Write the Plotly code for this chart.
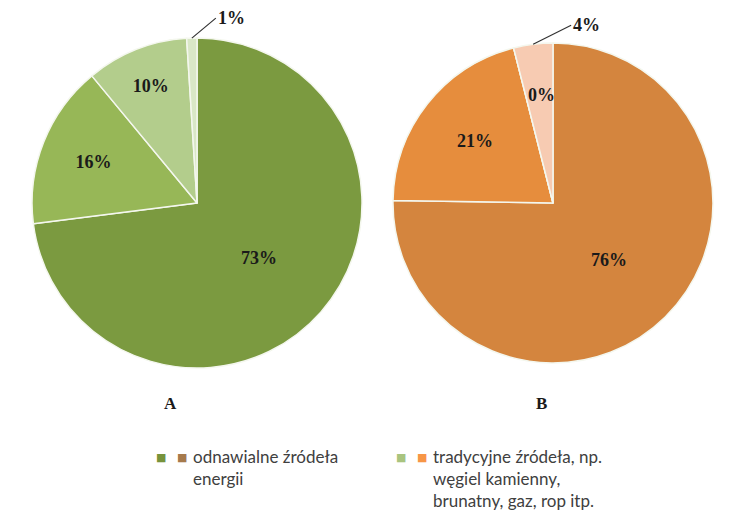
import math
import plotly.graph_objects as go

categories = ["odnawialne źródeła energii",
              "tradycyjne źródeła, np. węgiel kamienny, brunatny, gaz, rop itp.",
              "kategoria 3", "kategoria 4"]
values_a = [73, 16, 10, 1]
values_b = [76, 21, 0, 4]
colors_a = ["#7B9A40", "#97B757", "#B3CD8C", "#D9E7C6"]
colors_b = ["#D4853E", "#E68D3D", "#F3BE9B", "#F7CBB2"]
legend_a = ["#77933C", "#A9C47F"]
legend_b = ["#A67A4C", "#F79646"]
legend_texts = ["odnawialne źródeła<br>energii",
                "tradycyjne źródeła, np.<br>węgiel kamienny,<br>brunatny, gaz, rop itp."]
chart_labels = ["A", "B"]

W, H = 752, 528
dom_a = dict(x=[0.0426, 0.4814], y=[0.303, 0.928])
dom_b = dict(x=[0.5226, 0.9481], y=[0.3125, 0.9186])

serif = "Liberation Serif"
LBL = dict(family=serif, size=18, color="#1A1A1A")
fig = go.Figure()
for vals, cols, dom in [(values_a, colors_a, dom_a), (values_b, colors_b, dom_b)]:
    txt = [f"<b>{v}%</b>" for v in vals]
    pos = ["inside" if v >= 5 else "none" for v in vals]
    fig.add_trace(go.Pie(
        labels=categories, values=vals, text=txt, texttemplate="%{text}",
        textposition=pos, insidetextorientation="horizontal",
        sort=False, direction="clockwise", rotation=0,
        marker=dict(colors=cols, line=dict(color="#F4F7EE", width=1.5)),
        textfont=LBL, domain=dom, showlegend=False, hoverinfo="skip"))

annotations = []
offsets = {0: (24, -20), 1: (38, -19)}
for k, (vals, dom) in enumerate([(values_a, dom_a), (values_b, dom_b)]):
    total = sum(vals)
    cx = (dom["x"][0] + dom["x"][1]) / 2
    cy = (dom["y"][0] + dom["y"][1]) / 2
    r_px = min((dom["x"][1] - dom["x"][0]) * W, (dom["y"][1] - dom["y"][0]) * H) / 2
    cum = 0
    for v in vals:
        mid = (cum + v / 2) / total * 2 * math.pi
        cum += v
        if v >= 5:
            continue
        if v > 0:
            px = cx + r_px * math.sin(mid) / W
            py = cy + r_px * math.cos(mid) / H
            annotations.append(dict(x=px, y=py, xref="paper", yref="paper",
                                    text=f"<b>{v}%</b>", showarrow=True, arrowhead=0,
                                    arrowwidth=1.2, arrowcolor="#333333",
                                    ax=offsets[k][0], ay=offsets[k][1], xanchor="left",
                                    yanchor="middle", font=LBL))
        else:
            ang = mid + 0.14
            px = cx + 0.68 * r_px * math.sin(ang) / W
            py = cy + 0.68 * r_px * math.cos(ang) / H
            annotations.append(dict(x=px, y=py, xref="paper", yref="paper",
                                    xanchor="center", yanchor="middle",
                                    text=f"<b>{v}%</b>", showarrow=False, font=LBL))

for lab, xp in zip(chart_labels, [170, 541]):
    annotations.append(dict(x=xp / W, y=1 - 403 / H, xref="paper", yref="paper",
                            xanchor="center", yanchor="middle",
                            text=f"<b>{lab}</b>", showarrow=False,
                            font=dict(family=serif, size=17, color="#1A1A1A")))

leg_font = dict(family="Lato", size=17, color="#404040")
for i, (xs, t) in enumerate(zip([161, 401], legend_texts)):
    yrow = 456
    for dx, c in [(0, legend_a[i]), (21, legend_b[i])]:
        annotations.append(dict(x=(xs + dx) / W, y=1 - (yrow + 1) / H, xref="paper", yref="paper",
                                xanchor="center", yanchor="middle",
                                showarrow=False, text="■",
                                font=dict(family="DejaVu Sans", size=11, color=c)))
    annotations.append(dict(x=(xs + 30) / W, y=1 - (yrow - 12) / H, xref="paper", yref="paper",
                            xanchor="left", yanchor="top", align="left", showarrow=False,
                            text=t, font=leg_font))

fig.update_layout(width=W, height=H, margin=dict(l=0, r=0, t=0, b=0),
                  paper_bgcolor="white", plot_bgcolor="white",
                  annotations=annotations)
fig.write_html("out.html")
